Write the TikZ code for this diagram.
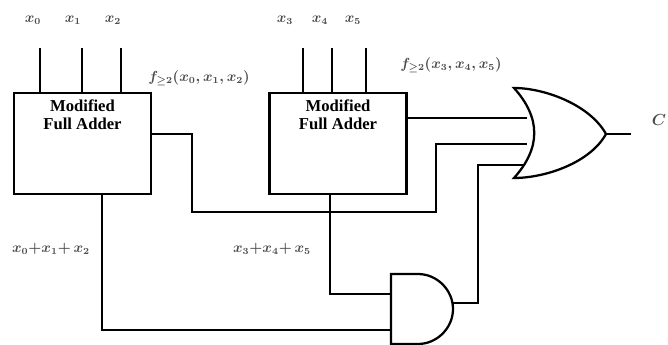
\documentclass[tikz,border=0pt]{standalone}
\usepackage{fontspec}
\setmainfont{Liberation Serif}
\usetikzlibrary{positioning}

\tikzset{
  wire/.style={line width=1.9pt, line join=miter},
  gate/.style={line width=1.7pt, line join=miter},
  adder/.style={draw, line width=1.9pt, minimum width=102.75pt, minimum height=75.75pt},
  addertext/.style={align=center, inner sep=0pt, font=\fontsize{12.5}{13.5}\selectfont\bfseries},
  signal/.style={inner sep=0pt, text=black!70, font=\fontsize{10.5}{12}\selectfont\boldmath},
}

\begin{document}
\begin{tikzpicture}[x=0.75pt, y=-0.75pt]
  \useasboundingbox (0,0) rectangle (668,345);

  \node[adder] (adderA) at (82.5,143.5) {};
  \node[adder, right=87pt of adderA] (adderB) {};
  \node[addertext, below=6pt of adderA.north] (titleA) {Modified\\Full Adder};
  \node[addertext, below=6pt of adderB.north] (titleB) {Modified\\Full Adder};

  % input labels sit a little left of their wires
  \node[signal] (x0) at (33,20) {$x_0$};
  \node[signal] (x1) at (73,20) {$x_1$};
  \node[signal] (x2) at (113,20) {$x_2$};
  \node[signal] (x3) at (285,20) {$x_3$};
  \node[signal] (x4) at (320,20) {$x_4$};
  \node[signal] (x5) at (353,20) {$x_5$};
  \node[signal] (majA) at (199,78) {$f_{\geq 2}(x_0,x_1,x_2)$};
  \node[signal] (majB) at (451,65) {$f_{\geq 2}(x_3,x_4,x_5)$};
  \node[signal] (sumA) at (51,249) {$x_0{+}x_1{+}\,x_2$};
  \node[signal] (sumB) at (272,249) {$x_3{+}x_4{+}\,x_5$};
  \node[signal, font=\fontsize{12}{12}\selectfont\boldmath] (carry) at (659,120) {$C$};

  \coordinate (inA0) at (40,48);
  \coordinate (inA1) at (82,48);
  \coordinate (inA2) at (121,48);
  \coordinate (inB0) at (303,48);
  \coordinate (inB1) at (332,48);
  \coordinate (inB2) at (366,48);
  \foreach \pin/\block in {inA0/adderA, inA1/adderA, inA2/adderA, inB0/adderB, inB1/adderB, inB2/adderB}
    \draw[wire] (\pin) -- (\pin |- \block.north);

  % gate pins
  \coordinate (orTop) at (527,118);
  \coordinate (orMid) at (527,144);
  \coordinate (orLow) at (525,165);
  \coordinate (orOut) at (606,134);
  \coordinate (andTop) at (391,294);
  \coordinate (andLow) at (391,330);
  \coordinate (andOut) at (453,303);
  \coordinate (outEnd) at (631,134);

  \draw[gate] (514,88) .. controls (545,88) and (590,105) .. (orOut)
    .. controls (590,163) and (545,178) .. (514,178)
    .. controls (541,148) and (541,118) .. cycle;
  \draw[gate] (391,274) -- (418,274) .. controls (437,274) and (453,290) .. (453,309)
    .. controls (453,328) and (437,344) .. (418,344) -- (391,344) -- cycle;

  \draw[wire] (orOut) -- (outEnd);
  \draw[wire] (adderB.east |- orTop) -- (orTop);
  \draw[wire] (adderA.east |- 0,134) -| (192,212) -| (436,144) -- (orMid);
  \draw[wire] (andOut) -| (478,165) -- (orLow);
  \draw[wire] (330,194) |- (andTop);
  \draw[wire] (102,194) |- (andLow);
\end{tikzpicture}
\end{document}
